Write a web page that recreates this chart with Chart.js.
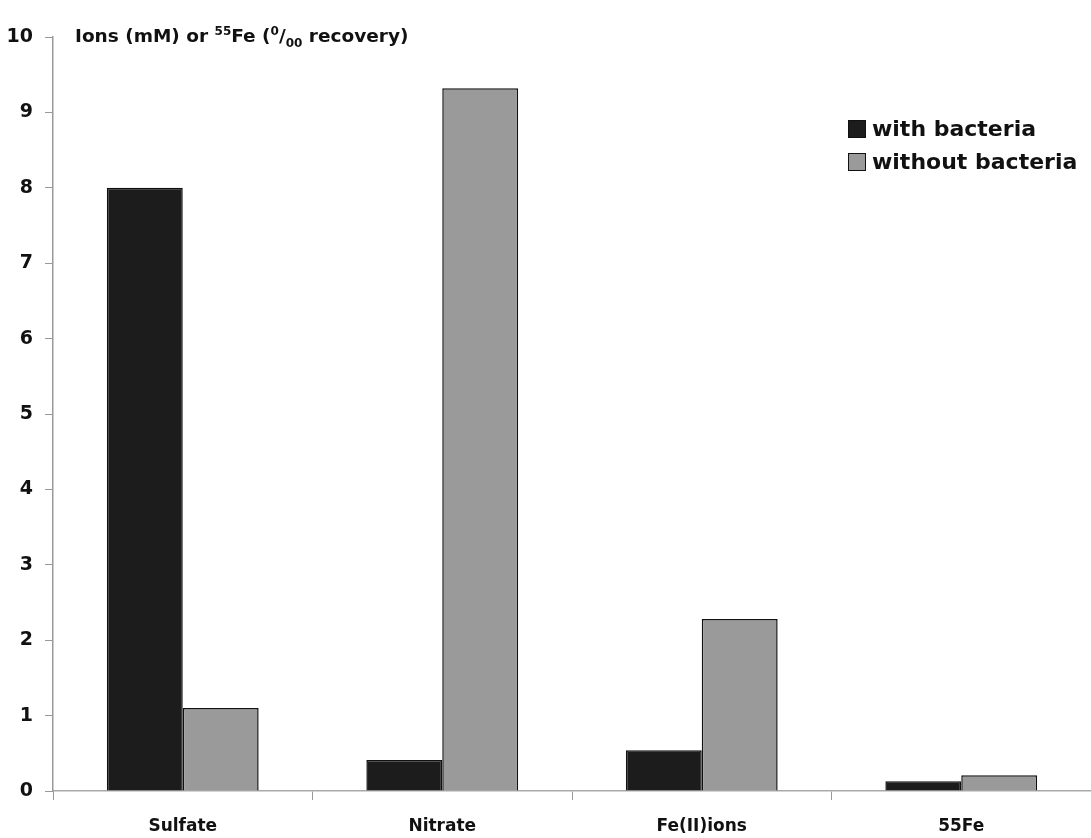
<!DOCTYPE html>
<html>
<head>
<meta charset="utf-8">
<script src="https://cdn.jsdelivr.net/npm/chart.js@4.4.1/dist/chart.umd.min.js"></script>
<style>
  body { margin: 0; background: #fff; font-family: "DejaVu Sans", sans-serif; }
  #wrap { position: relative; width: 1091px; height: 838px; }
  #title { position: absolute; left: 75px; top: 24px; font-weight: bold; font-size: 18.5px; color: #111; white-space: nowrap; }
  #title sup, #title sub { font-size: 12px; }
  #legend { position: absolute; left: 848px; top: 112px; font-weight: bold; font-size: 22px; color: #111; }
  .item { display: flex; align-items: center; height: 33px; }
  .box { width: 16px; height: 16px; border: 1.5px solid #111; margin-right: 6px; }
</style>
</head>
<body>
<div id="wrap">
  <canvas id="chart" width="1091" height="838"></canvas>
  <div id="title">Ions (mM) or <sup>55</sup>Fe (<sup>0</sup>/<sub>00</sub> recovery)</div>
  <div id="legend">
    <div class="item"><span class="box" style="background:#1c1c1c"></span>with bacteria</div>
    <div class="item"><span class="box" style="background:#9a9a9a"></span>without bacteria</div>
  </div>
</div>
<script>
const categories = ["Sulfate", "Nitrate", "Fe(II)ions", "55Fe"];
const withBacteria = [8.0, 0.41, 0.54, 0.13];
const withoutBacteria = [1.1, 9.32, 2.28, 0.21];
const yTicks = [0, 1, 2, 3, 4, 5, 6, 7, 8, 9, 10];

new Chart(document.getElementById('chart'), {
    type: 'bar',
    data: {
        labels: categories,
        datasets: [{
            label: 'with bacteria',
            data: withBacteria,
            backgroundColor: '#1c1c1c',
            borderColor: '#111',
            borderWidth: 1.5,
            categoryPercentage: 0.585,
            barPercentage: 1
        }, {
            label: 'without bacteria',
            data: withoutBacteria,
            backgroundColor: '#9a9a9a',
            borderColor: '#111',
            borderWidth: 1.5,
            categoryPercentage: 0.585,
            barPercentage: 1
        }]
    },
    options: {
        responsive: false,
        animation: false,
        layout: { padding: { top: 37, right: 0, left: 0, bottom: 0 } },
        plugins: {
            legend: { display: false },
            tooltip: { enabled: false }
        },
        scales: {
            x: {
                grid: { drawOnChartArea: false, color: '#999', tickLength: 9, offset: true },
                border: { color: '#aaa', width: 1.5 },
                ticks: {
                    color: '#111',
                    padding: 16,
                    font: { family: 'DejaVu Sans', weight: 'bold', size: 17 }
                },
                afterFit: (scale) => { scale.height = 47; }
            },
            y: {
                min: 0,
                max: 10,
                afterBuildTicks: (scale) => { scale.ticks = yTicks.map(v => ({ value: v })); },
                grid: { drawOnChartArea: false, color: '#999', tickLength: 8 },
                border: { color: '#999', width: 1.5 },
                ticks: {
                    color: '#111',
                    padding: 12,
                    font: { family: 'DejaVu Sans', weight: 'bold', size: 19 }
                },
                afterFit: (scale) => { scale.width = 53; }
            }
        }
    }
});
</script>
</body>
</html>
